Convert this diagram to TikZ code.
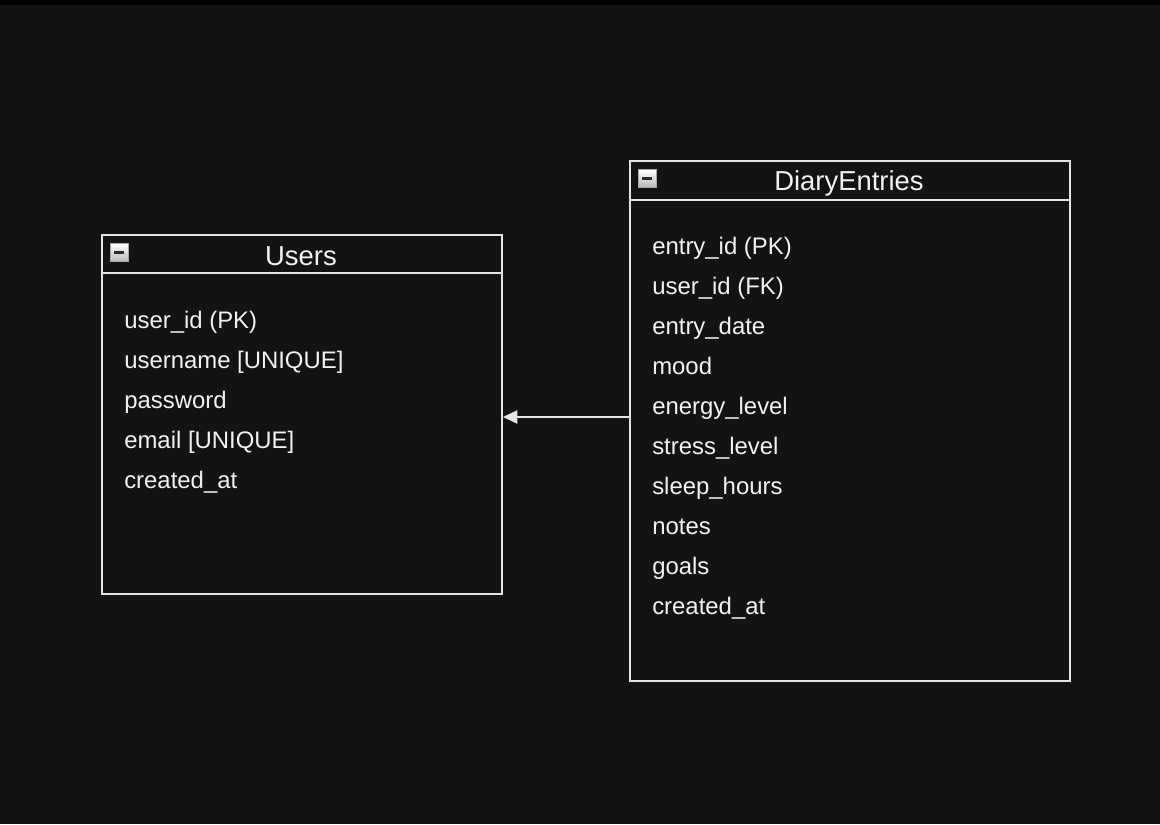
\documentclass[tikz,border=0pt]{standalone}
\usepackage{fontspec}
\setmainfont{Liberation Sans}
\usetikzlibrary{arrows.meta, positioning}
\definecolor{bg}{HTML}{131313}
\definecolor{edge}{HTML}{E4E4E4}
\definecolor{ink}{HTML}{F2F2F2}
\definecolor{knob}{HTML}{2A2A2A}
\tikzset{
  table/.style={draw=edge, line width=1.3pt, fill=bg, anchor=north west, inner sep=0pt},
  rule/.style={draw=edge, line width=1.3pt},
  title/.style={text=ink, font=\fontsize{19.5}{22}\selectfont, anchor=base, inner sep=0pt},
  field/.style={text=ink, font=\fontsize{17}{20}\selectfont, anchor=base west, inner sep=0pt},
  toggle/.style={draw=gray!70, line width=0.4pt, top color=white, bottom color=gray!55,
    minimum size=0.45cm, inner sep=0pt, anchor=north west},
  fkline/.style={draw=edge, line width=1.3pt, -{Triangle[length=0.36cm, width=0.33cm]}}
}
\begin{document}
\begin{tikzpicture}[x=0.025cm, y=-0.025cm]
    \fill[bg] (0,0) rectangle (1160,824);
    \fill[black] (0,0) rectangle (1160,5);
    \useasboundingbox (0,0) rectangle (1160,824);

    % Users table
    \node[table, minimum width=10cm, minimum height=8.975cm] (users) at (101,234) {};
    \draw[rule] ([yshift=-0.975cm]users.north west) -- ([yshift=-0.975cm]users.north east);
    \node[toggle] (users-toggle) at (110,243) {\textcolor{knob}{\rule{0.25cm}{0.08cm}}};
    \node[title] (users-title) at (301,265) {Users};
    \node[field] (users-id) at (124,328) {user\_id (PK)};
    \node[field] (users-name) at (124,368) {username [UNIQUE]};
    \node[field] (users-pass) at (124,408) {password};
    \node[field] (users-mail) at (124,448) {email [UNIQUE]};
    \node[field] (users-created) at (124,488) {created\_at};

    % DiaryEntries table
    \node[table, minimum width=11cm, minimum height=13cm] (diary) at (629,160) {};
    \draw[rule] ([yshift=-1cm]diary.north west) -- ([yshift=-1cm]diary.north east);
    \node[toggle] (diary-toggle) at (638,169) {\textcolor{knob}{\rule{0.25cm}{0.08cm}}};
    \node[title] (diary-title) at (849,190) {DiaryEntries};
    \node[field] (diary-id) at (652,254) {entry\_id (PK)};
    \node[field] (diary-user) at (652,294) {user\_id (FK)};
    \node[field] (diary-date) at (652,334) {entry\_date};
    \node[field] (diary-mood) at (652,374) {mood};
    \node[field] (diary-energy) at (652,414) {energy\_level};
    \node[field] (diary-stress) at (652,454) {stress\_level};
    \node[field] (diary-sleep) at (652,494) {sleep\_hours};
    \node[field] (diary-notes) at (652,534) {notes};
    \node[field] (diary-goals) at (652,574) {goals};
    \node[field] (diary-created) at (652,614) {created\_at};

    % foreign key
    \coordinate (fk) at (629,417);
    \draw[fkline] (fk) -- (fk -| users.east);
\end{tikzpicture}
\end{document}
